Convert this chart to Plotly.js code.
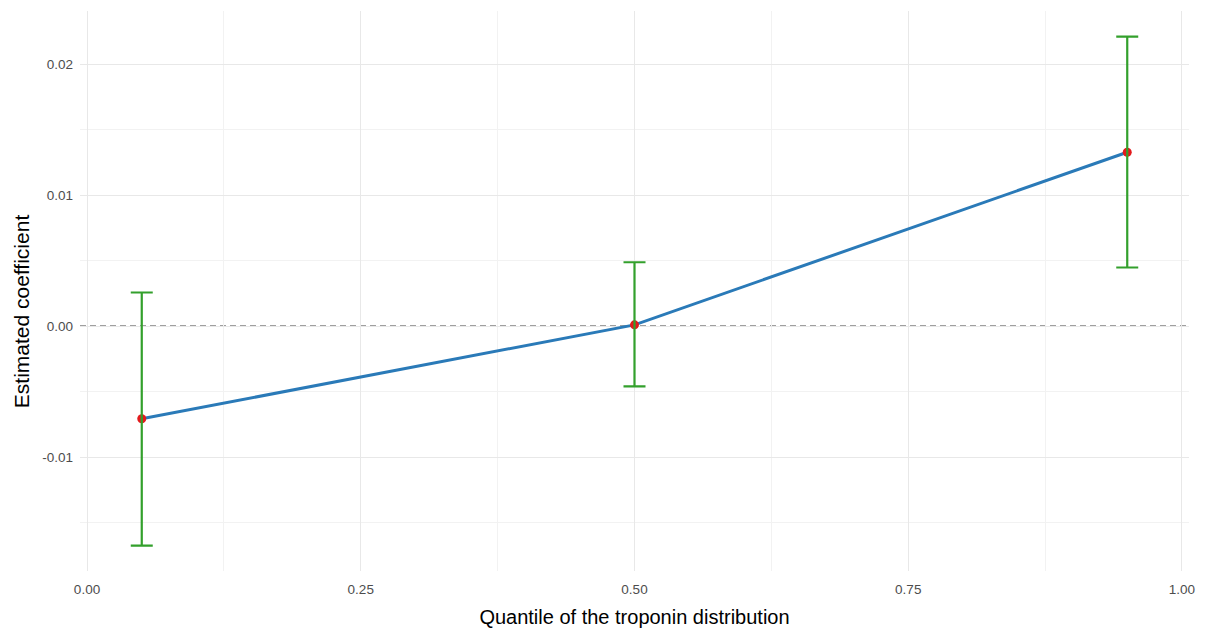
<!DOCTYPE html>
<html>
<head>
<meta charset="utf-8">
<script src="https://cdn.plot.ly/plotly-3.0.1.min.js"></script>
<style>html,body{margin:0;padding:0;background:#fff;}#chart{width:1205px;height:630px;}</style>
</head>
<body>
<div id="chart"></div>
<script>
const quantiles = [0.05, 0.50, 0.95];
const estimates = [-0.00708, 0.00009, 0.01327];
const upperCI = [0.00256, 0.00487, 0.02210];
const lowerCI = [-0.01676, -0.00460, 0.00447];
const xTickVals = [0, 0.25, 0.5, 0.75, 1.0];
const xTickText = ["0.00", "0.25", "0.50", "0.75", "1.00"];
const yTickVals = [-0.01, 0.0, 0.01, 0.02];
const yTickText = ["-0.01", "0.00", "0.01", "0.02"];
const xTitle = 'Quantile of the troponin distribution';
const yTitle = 'Estimated coefficient';

const errPlus = upperCI.map((u, i) => u - estimates[i]);
const errMinus = lowerCI.map((l, i) => estimates[i] - l);

const traces = [
  {x: quantiles, y: estimates, type: 'scatter', mode: 'lines',
   line: {color: '#2a7ab8', width: 3}, hoverinfo: 'skip', showlegend: false},
  {x: quantiles, y: estimates, type: 'scatter', mode: 'markers',
   marker: {color: '#e31a1c', size: 9}, showlegend: false},
  {x: quantiles, y: estimates, type: 'scatter', mode: 'markers',
   marker: {color: 'rgba(0,0,0,0)', size: 1},
   error_y: {type: 'data', symmetric: false, array: errPlus, arrayminus: errMinus,
             color: '#33a02c', thickness: 2.2, width: 11},
   showlegend: false}
];

const layout = {
  width: 1205, height: 630,
  margin: {l: 80, r: 16, t: 11, b: 59},
  paper_bgcolor: '#ffffff', plot_bgcolor: '#ffffff',
  font: {family: 'Liberation Sans, Arial, sans-serif', color: '#4d4d4d', size: 13.5},
  xaxis: {
    range: [-0.0064, 1.0064], tickvals: xTickVals, ticktext: xTickText,
    showgrid: true, gridcolor: '#e8e8e8', gridwidth: 1, zeroline: false,
    showline: false, ticks: '', ticklen: 0, ticklabelstandoff: 8,
    tickfont: {size: 13.5, color: '#4d4d4d'},
    minor: {dtick: 0.125, tick0: 0, showgrid: true, gridcolor: '#f2f2f2', gridwidth: 1},
    title: {text: xTitle, font: {size: 20, color: '#000000'}, standoff: 14}
  },
  yaxis: {
    range: [-0.0187, 0.02405], tickvals: yTickVals, ticktext: yTickText,
    showgrid: true, gridcolor: '#e8e8e8', gridwidth: 1, zeroline: false,
    showline: false, ticks: '', ticklen: 0, ticklabelstandoff: 6,
    tickfont: {size: 13.5, color: '#4d4d4d'},
    minor: {dtick: 0.005, tick0: 0, showgrid: true, gridcolor: '#f2f2f2', gridwidth: 1}
  },
  annotations: [
    {text: yTitle, xref: 'paper', yref: 'paper', x: 0, y: 0.464, xanchor: 'center', yanchor: 'middle',
     xshift: -59, textangle: -90, showarrow: false, font: {size: 21, color: '#000000'}}
  ],
  shapes: [
    {type: 'line', xref: 'paper', x0: 0, x1: 1, yref: 'y', y0: 0, y1: 0,
     line: {color: '#808080', width: 1.5, dash: '6px,4px'}, layer: 'below'}
  ]
};

Plotly.newPlot('chart', traces, layout, {displayModeBar: false, staticPlot: true});
</script>
</body>
</html>
